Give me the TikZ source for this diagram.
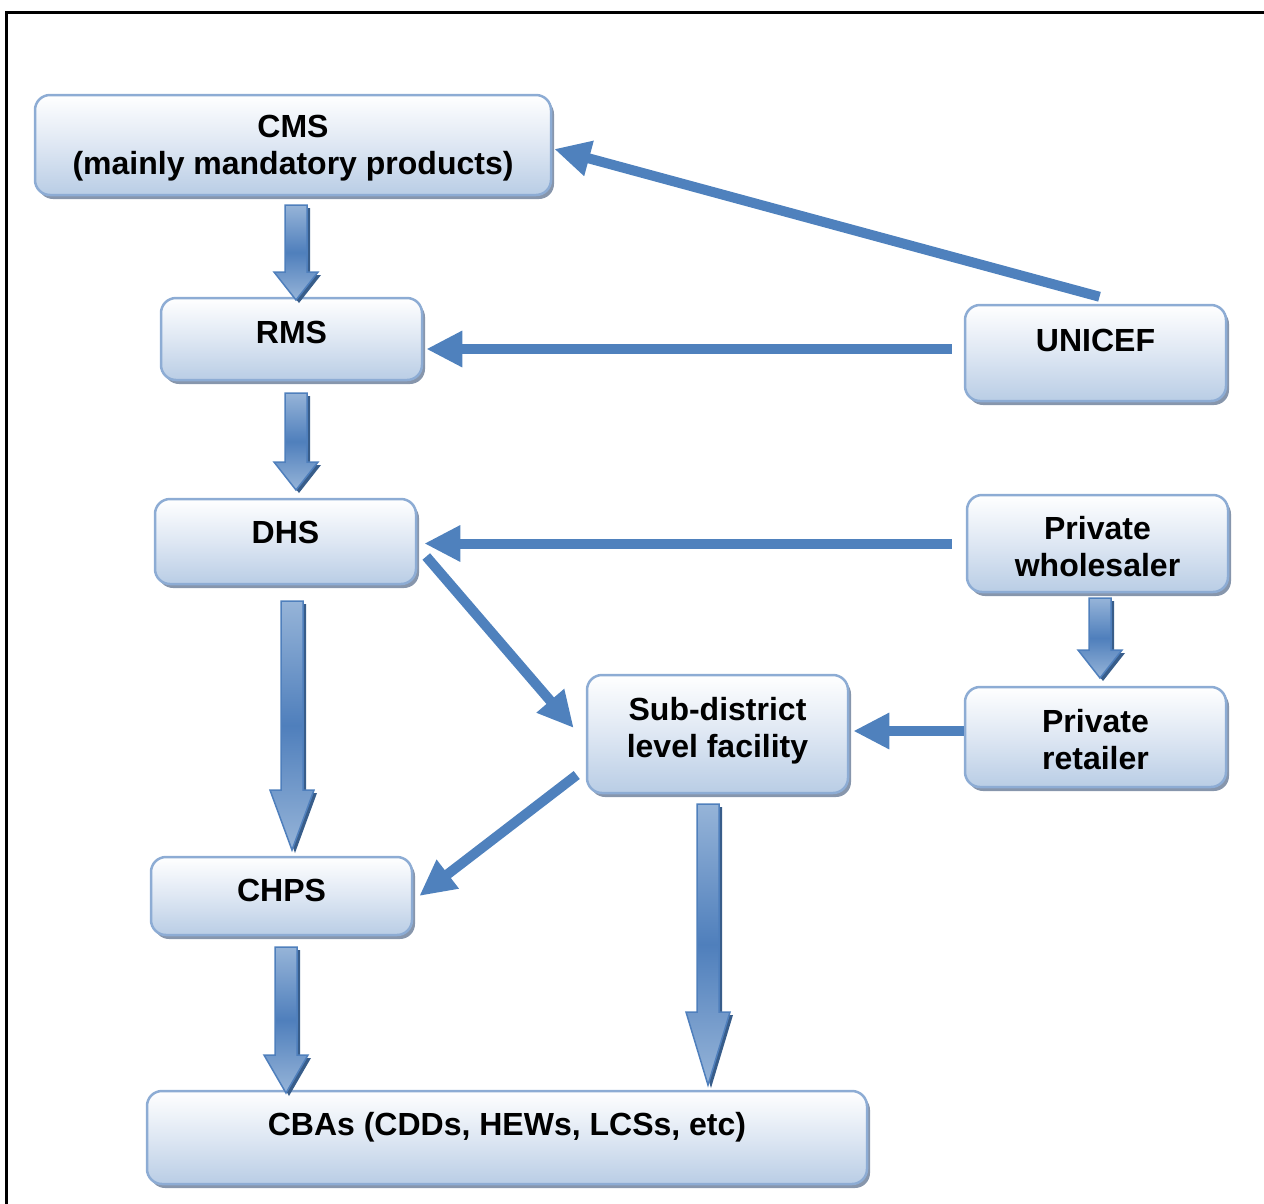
\documentclass[tikz,border=0pt]{standalone}
\usepackage{fontspec}
\setmainfont{Liberation Sans}
\usetikzlibrary{arrows.meta,shadows,calc}
\definecolor{conn}{RGB}{79,129,189}
\definecolor{boxline}{RGB}{141,172,212}
\definecolor{boxbot}{RGB}{185,205,229}
\definecolor{boxmid}{RGB}{222,231,243}
\definecolor{boxshadow}{RGB}{135,150,172}
\definecolor{arrL}{RGB}{150,180,216}
\definecolor{arrD}{RGB}{79,127,188}
\definecolor{arrS}{RGB}{56,93,138}
\newcommand\barrow[4]{%
  \fill[arrS,shift={(3,3)}] (#1-11,#2) -- (#1+11,#2) -- (#1+11,#4) -- (#1+22,#4) -- (#1,#3) -- (#1-22,#4) -- (#1-11,#4) -- cycle;
  \path[draw=arrD,line width=1.5pt,top color=arrL,bottom color=arrL,middle color=arrD]
    (#1-11,#2) -- (#1+11,#2) -- (#1+11,#4) -- (#1+22,#4) -- (#1,#3) -- (#1-22,#4) -- (#1-11,#4) -- cycle;}
\begin{document}
\begin{tikzpicture}[x=1pt,y=-1pt,
  box/.style={draw=boxline,line width=2.5pt,rounded corners=15pt,
    top color=white,bottom color=boxbot,middle color=boxmid,
    general shadow={fill=boxshadow,shadow xshift=3pt,shadow yshift=-4pt}},
  txt/.style={font=\fontsize{32}{37}\selectfont\bfseries,align=center,inner sep=0pt},
  conn/.style={draw=conn,line width=10pt,-{Triangle[length=36pt,width=34pt]}}]
\useasboundingbox (0,0) rectangle (1264,1203);
\draw[line width=3pt] (6,1205) -- (6,12) -- (1266,12);
% boxes
\node[box,minimum width=516pt,minimum height=100pt] (cms) at (293,145) {};
\node[txt] (cmsT) at ([yshift=-3pt]cms.center) {CMS\\(mainly mandatory products)};
\node[box,minimum width=261pt,minimum height=82pt] (rms) at (291.5,339) {};
\node[txt] (rmsT) at ([yshift=7pt]rms.center) {RMS};
\node[box,minimum width=261pt,minimum height=96pt] (unicef) at (1095.5,353) {};
\node[txt] (unicefT) at ([yshift=13pt]unicef.center) {UNICEF};
\node[box,minimum width=261pt,minimum height=85pt] (dhs) at (285.5,541.5) {};
\node[txt] (dhsT) at ([yshift=9pt]dhs.center) {DHS};
\node[box,minimum width=261pt,minimum height=97pt] (whole) at (1097.5,543.5) {};
\node[txt] (wholeT) at ([yshift=-3pt]whole.center) {Private\\wholesaler};
\node[box,minimum width=261pt,minimum height=118pt] (sub) at (717.5,734) {};
\node[txt] (subT) at ([yshift=3pt]sub.center) {Sub-district\\level facility};
\node[box,minimum width=261pt,minimum height=100pt] (ret) at (1095.5,737) {};
\node[txt] (retT) at ([yshift=-3pt]ret.center) {Private\\retailer};
\node[box,minimum width=261pt,minimum height=78pt] (chps) at (281.5,896) {};
\node[txt] (chpsT) at ([yshift=6pt]chps.center) {CHPS};
\node[box,minimum width=720pt,minimum height=93pt] (cba) at (507,1137.5) {};
\node[txt] (cbaT) at ([yshift=10pt]cba.center) {CBAs (CDDs, HEWs, LCSs, etc)};
% block arrows
\barrow{296}{205}{300}{272}
\barrow{296}{393}{490}{462}
\barrow{292}{601}{850}{790}
\barrow{1100}{598}{678}{650}
\barrow{286}{947}{1093}{1055}
\barrow{708}{804}{1085}{1012}
% line connectors
\coordinate (u0) at ([xshift=4pt,yshift=7pt]unicef.north);
\coordinate (u1) at ([xshift=-12pt,yshift=4pt]unicef.west);
\coordinate (w1) at ([xshift=-14pt]whole.west);
\coordinate (r1) at ([yshift=6pt]ret.west);
\draw[conn] (u0) -- ([xshift=2pt,yshift=-4pt]cms.east);
\draw[conn] (u1) -- ([xshift=3pt]u1 -| rms.east);
\draw[conn] (w1) -- ([xshift=7pt]w1 -| dhs.east);
\draw[conn] ([xshift=9pt,yshift=-15pt]dhs.east) -- ([xshift=-12pt,yshift=6pt]sub.west);
\draw[conn] ([xshift=-9pt,yshift=-41pt]sub.west) -- ([xshift=6pt]chps.east);
\draw[conn] (r1) -- ([xshift=4pt]r1 -| sub.east);
\end{tikzpicture}
\end{document}
